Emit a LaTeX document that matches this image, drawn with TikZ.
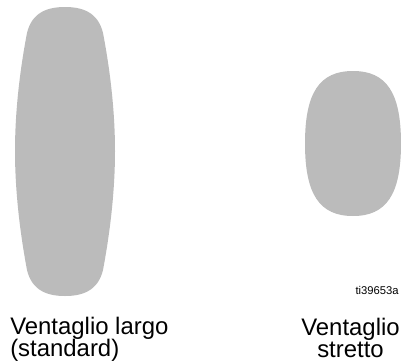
\documentclass[tikz,border=0pt]{standalone}
\usepackage{fontspec}
\setmainfont{Liberation Sans}
\usepackage{tikz}
\usetikzlibrary{positioning}
\definecolor{fangray}{RGB}{187,187,187}

\tikzset{
    fanshape/.style={fill=fangray, draw=none},
    fanlabel/.style={inner sep=0pt, font=\fontsize{17}{16}\selectfont},
    figtag/.style={inner sep=0pt, font=\fontsize{8}{9}\selectfont}
}

\begin{document}
\begin{tikzpicture}[x=0.025cm, y=-0.025cm]
    \useasboundingbox (0,0) rectangle (401,362);

    % Wide fan (standard)
    \fill[fanshape] (27,33) .. controls (32,12) and (48,7) .. (65,7)
        .. controls (82,7) and (98,12) .. (103,33)
        .. controls (112,80) and (115,120) .. (115,151)
        .. controls (115,182) and (112,222) .. (103,270)
        .. controls (98,291) and (82,296) .. (65,296)
        .. controls (48,296) and (32,291) .. (27,270)
        .. controls (18,222) and (15,182) .. (15,151)
        .. controls (15,120) and (18,80) .. (27,33) -- cycle;

    % Narrow fan
    \fill[fanshape] (401,143.5) .. controls (401,92.75) and (386.6,71) .. (353,71)
        .. controls (319.4,71) and (305,92.75) .. (305,143.5)
        .. controls (305,194.25) and (319.4,216) .. (353,216)
        .. controls (386.6,216) and (401,194.25) .. (401,143.5) -- cycle;

    % Labels
    \node (tag) [figtag, anchor=base east] at (399,294) {ti39653a};
    \node (wide) [fanlabel, anchor=base west, align=left] at (10,356.5) {Ventaglio largo\\(standard)};
    \node (narrow) [fanlabel, anchor=base, align=center] at (350.5,357.5) {Ventaglio\\stretto};
\end{tikzpicture}
\end{document}
